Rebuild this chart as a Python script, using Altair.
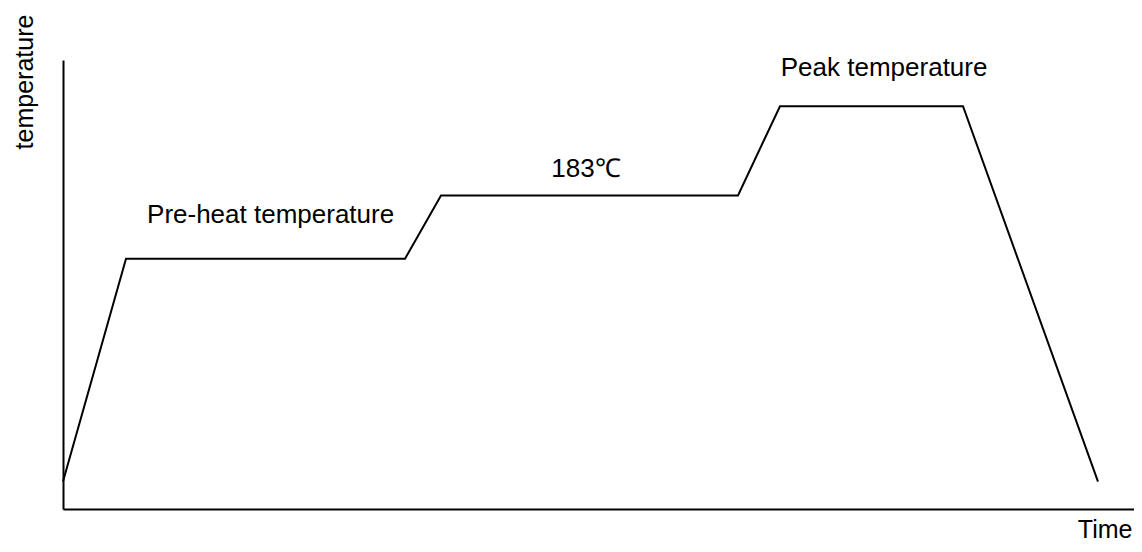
import altair as alt
import pandas as pd

# reflow profile (time in arbitrary units, temperature in °C)
time = [0, 21, 114, 126, 225, 239, 300, 345]
temp = [16, 146, 146, 183, 183, 235, 235, 16]

label_text = ["Pre-heat temperature", "183℃", "Peak temperature"]
label_time = [69.2, 174.3, 273.7]
label_temp = [166.7, 193.6, 252.9]

X_MAX = 357
Y_MAX = 262

df = pd.DataFrame({"time": time, "temp": temp, "order": list(range(len(time)))})
lab = pd.DataFrame({"text": label_text, "time": label_time, "temp": label_temp})

FONT = "Liberation Sans"

xs = alt.Scale(domain=[0, X_MAX], nice=False, zero=False)
ys = alt.Scale(domain=[0, Y_MAX], nice=False, zero=False)

line = alt.Chart(df).mark_line(color="black", strokeWidth=2, clip=False).encode(
    x=alt.X("time:Q", scale=xs, axis=alt.Axis(
        title="Time", labels=False, ticks=False, grid=False,
        domainColor="black", domainWidth=2,
        titleX=1069, titleY=28, titleAlign="right", titleBaseline="alphabetic",
        titleFont=FONT, titleFontSize=25, titleFontWeight="normal", titleColor="black")),
    y=alt.Y("temp:Q", scale=ys, axis=alt.Axis(
        title="temperature", labels=False, ticks=False, grid=False,
        domainColor="black", domainWidth=2,
        titleX=-39, titleY=21.5, titleAngle=270, titleAlign="center", titleBaseline="middle",
        titleFont=FONT, titleFontSize=25, titleFontWeight="normal", titleColor="black")),
    order="order:Q",
)

text = alt.Chart(lab).mark_text(font=FONT, fontSize=26, color="black",
                                align="center", baseline="alphabetic").encode(
    x=alt.X("time:Q", scale=xs),
    y=alt.Y("temp:Q", scale=ys),
    text="text:N",
)

chart = (line + text).properties(
    width=1071, height=449,
    autosize=alt.AutoSizeParams(type="none"),
    padding={"left": 55, "top": 52, "right": 0, "bottom": 35},
).configure(background="white").configure_view(stroke=None)

chart.save("out.html", embed_options={"renderer": "svg", "actions": False})
